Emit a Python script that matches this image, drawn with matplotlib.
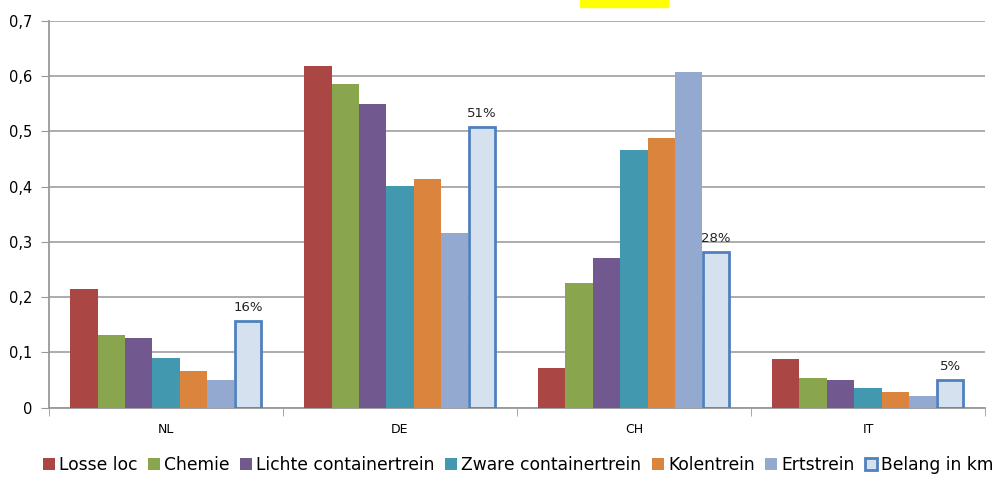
import numpy as np
import matplotlib.pyplot as plt
from matplotlib.patches import Rectangle

# categories and series
landen = ['NL', 'DE', 'CH', 'IT']
series = ['Losse loc', 'Chemie', 'Lichte containertrein', 'Zware containertrein',
          'Kolentrein', 'Ertstrein', 'Belang in km']
losse_loc = [0.215, 0.618, 0.072, 0.089]
chemie = [0.131, 0.585, 0.226, 0.054]
lichte = [0.126, 0.550, 0.270, 0.051]
zware = [0.090, 0.401, 0.467, 0.036]
kolen = [0.067, 0.413, 0.487, 0.028]
erts = [0.051, 0.316, 0.608, 0.021]
belang = [0.157, 0.508, 0.282, 0.051]
belang_labels = ['16%', '51%', '28%', '5%']

kleuren = ['#AA4744', '#89A54E', '#71588F', '#4198AF', '#DB843D', '#93A9CF', '#D6E1F0']

fig = plt.figure(figsize=(9.97, 4.84), dpi=100)
ax = fig.add_axes([0.0491, 0.1576, 0.9388, 0.7996])

x = np.arange(len(landen)) + 0.5
w = 0.117
data = [losse_loc, chemie, lichte, zware, kolen, erts, belang]
handles = []
for i, vals in enumerate(data):
    pos = x + (i - 3) * w
    if i == 6:
        b = ax.bar(pos, vals, w * 0.92, color=kleuren[i], edgecolor='#4F81BD',
                   linewidth=2, zorder=3, label=series[i])
        for p, v, t in zip(pos, vals, belang_labels):
            ax.text(p, v + 0.012, t, ha='center', va='bottom', fontsize=9.5, color='#222222')
    else:
        b = ax.bar(pos, vals, w, color=kleuren[i], edgecolor='none', zorder=3, label=series[i])
    handles.append(b)

ax.set_xlim(0, 4)
ax.set_ylim(0, 0.7)
ax.set_yticks(np.arange(0, 0.71, 0.1))
ax.set_yticklabels(['0'] + ['0,%d' % k for k in range(1, 8)], fontsize=10.5)
ax.set_xticks(x)
ax.set_xticklabels(landen, fontsize=9)
ax.set_xticks(np.arange(0, 5), minor=True)
ax.tick_params(axis='x', which='major', length=0, pad=11)
ax.tick_params(axis='x', which='minor', length=6, color='#999999')
ax.tick_params(axis='y', length=6, color='#999999', pad=6)
ax.yaxis.grid(True, color='#A6A6A6', linewidth=1.3, zorder=0)
ax.set_axisbelow(True)
for s in ['top', 'right']:
    ax.spines[s].set_visible(False)
for s in ['left', 'bottom']:
    ax.spines[s].set_color('#999999')
    ax.spines[s].set_linewidth(1.3)

fig.legend(handles=handles, loc='center', bbox_to_anchor=(0.52, 0.04), ncol=7,
           frameon=False, fontsize=12.3, handlelength=0.7, handleheight=0.7,
           handletextpad=0.25, columnspacing=0.6)

# clipped yellow title box at the top
fig.patches.append(Rectangle((580 / 997, 1 - 7 / 484), 88 / 997, 7 / 484,
                             transform=fig.transFigure, color='#FFFF00', zorder=5))

fig.savefig('out.png', dpi=100)
